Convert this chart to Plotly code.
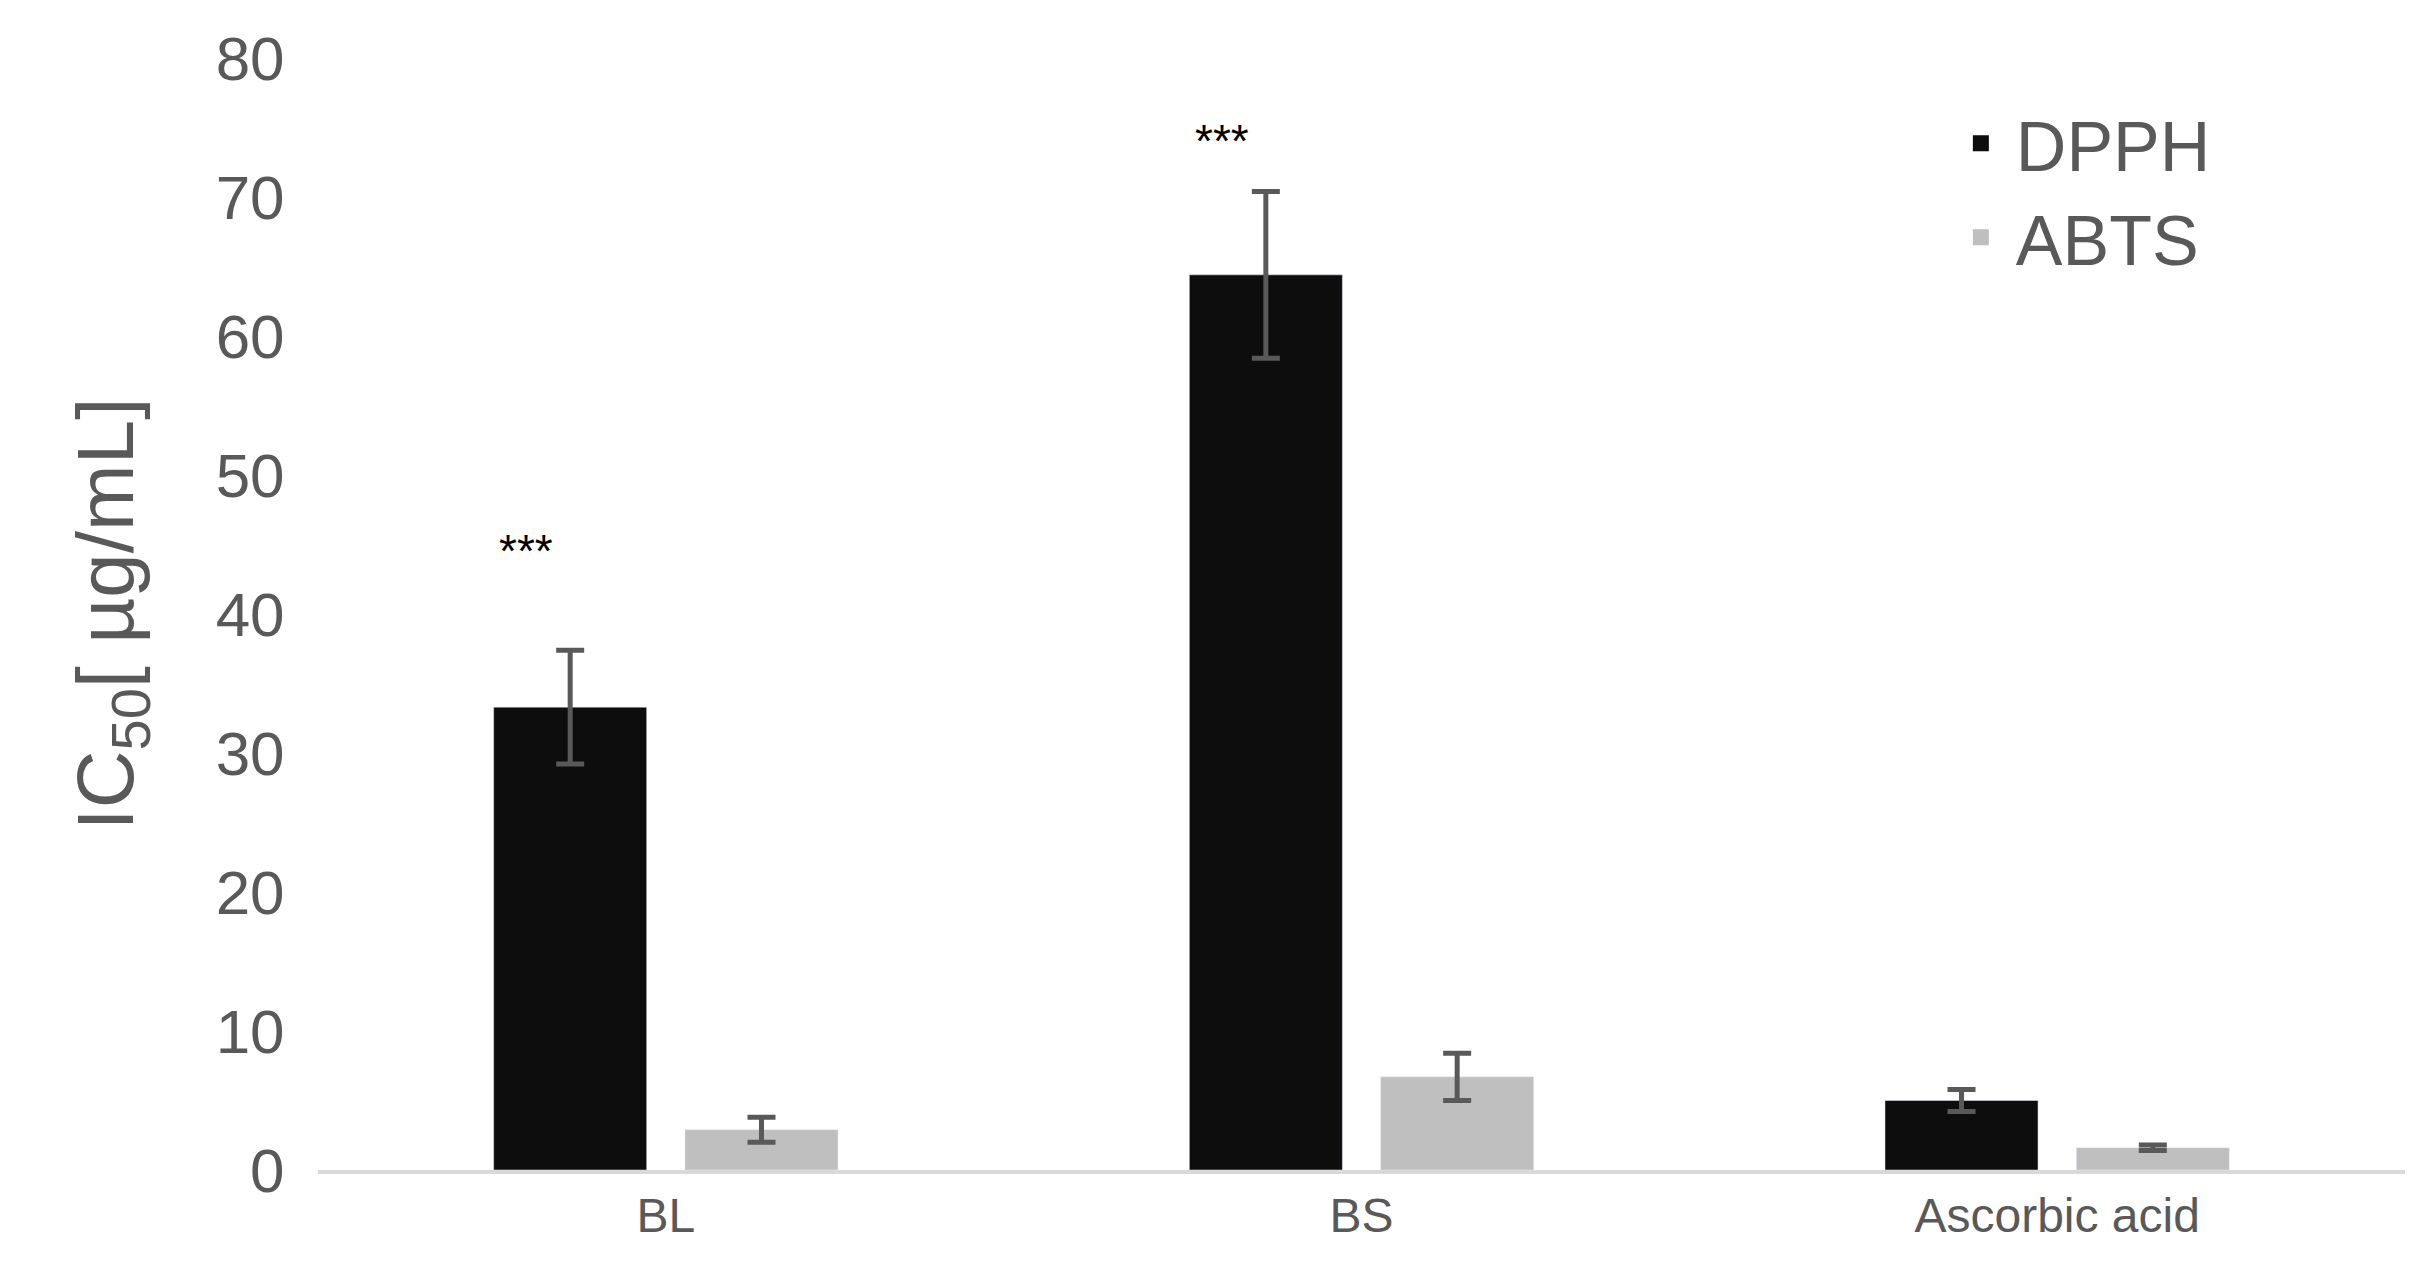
import plotly.graph_objects as go

categories = ["BL", "BS", "Ascorbic acid"]
dpph = [33.3, 64.4, 5.0]
dpph_err = [4.1, 6.0, 0.8]
abts = [2.9, 6.7, 1.6]
abts_err = [0.9, 1.7, 0.2]
sig_labels = ["***", "***"]
sig_cats = ["BL", "BS"]
sig_y = [44.5, 74.0]

fig = go.Figure()
fig.add_bar(name="DPPH", x=categories, y=dpph, marker_color="#0d0d0d", showlegend=False,
            error_y=dict(type="data", array=dpph_err, color="#595959", thickness=5, width=14))
fig.add_bar(name="ABTS", x=categories, y=abts, marker_color="#bfbfbf", showlegend=False,
            error_y=dict(type="data", array=abts_err, color="#595959", thickness=5, width=14))
for name, col in [("DPPH", "#0d0d0d"), ("ABTS", "#bfbfbf")]:
    fig.add_scatter(x=[None], y=[None], mode="markers", name=name,
                    marker=dict(symbol="square", size=44, color=col))
for c, t, y in zip(sig_cats, sig_labels, sig_y):
    fig.add_annotation(x=c, y=y, text=t, showarrow=False, xshift=-140,
                       font=dict(size=46, color="black", family="Arial, Liberation Sans"))

fig.update_layout(
    width=2428, height=1280, barmode="group", bargap=0.45, bargroupgap=0.2,
    plot_bgcolor="white", paper_bgcolor="white",
    margin=dict(l=310, r=31, t=50, b=118),
    font=dict(family="Arial, Liberation Sans", color="#595959"),
    legend=dict(x=0.78, y=0.97, xanchor="left", yanchor="top", font=dict(size=70),
                bgcolor="rgba(0,0,0,0)", itemwidth=60, tracegroupgap=40),
    xaxis=dict(showline=True, linecolor="#d9d9d9", linewidth=4, tickfont=dict(size=48),
               ticks=""),
    yaxis=dict(range=[0, 80], dtick=10, showgrid=False, zeroline=False, tickfont=dict(size=62),
               ticks="outside", ticklen=20, tickcolor="rgba(0,0,0,0)",
               title=dict(text="IC<sub>50</sub>[ µg/mL]", font=dict(size=80), standoff=55)),
)
fig.write_html("out.html")
